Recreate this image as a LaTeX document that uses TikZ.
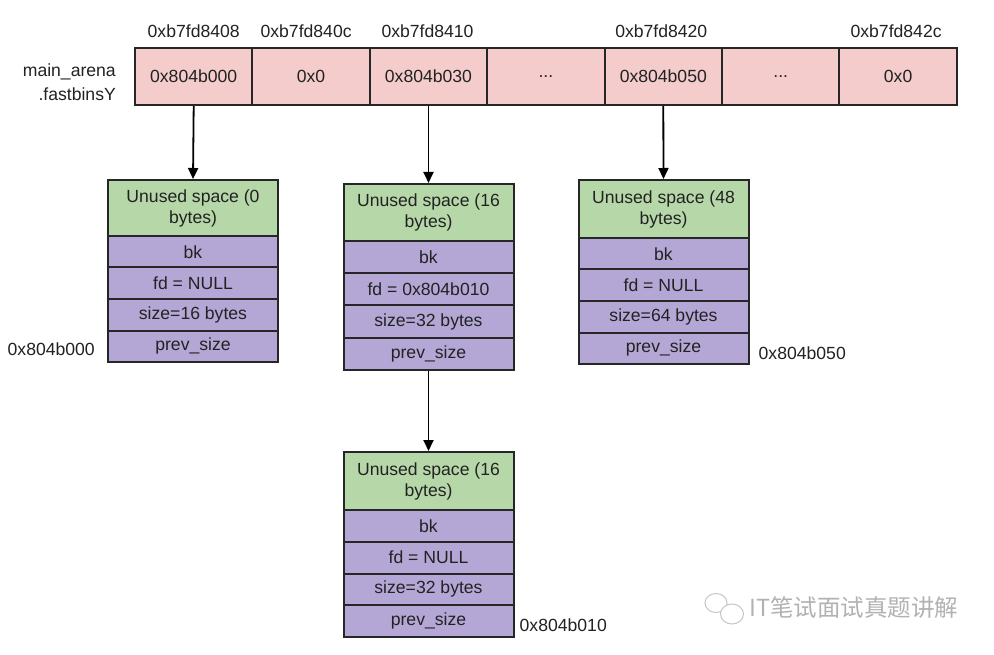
\documentclass[tikz,border=0pt]{standalone}
\usepackage{fontspec}
\setmainfont{Liberation Sans}
\newfontfamily\cjk{Noto Sans CJK SC}
\usetikzlibrary{arrows.meta,positioning,calc}
\definecolor{pinkc}{HTML}{F4CCCC}
\definecolor{greenc}{HTML}{B6D7A8}
\definecolor{purplec}{HTML}{B4A7D6}
\definecolor{edgec}{HTML}{262626}
\definecolor{txtc}{HTML}{222222}
\tikzset{
  base/.style={draw=edgec, line width=2pt, inner sep=0pt, text=txtc,
    font=\fontsize{17.6}{21}\selectfont, align=center},
  topcell/.style={base, fill=pinkc, minimum width=117.4pt, minimum height=57pt},
  unusedcell/.style={base, fill=greenc, minimum width=170pt},
  fieldcell/.style={base, fill=purplec, minimum width=170pt},
  lab/.style={inner sep=0pt, text=txtc, font=\fontsize{17.6}{21}\selectfont},
  ptr/.style={draw=black, line width=1.8pt, -{Triangle[length=11pt,width=10pt]}}
}
% #1 name, #2 center x, #3 top y, #4 green height, #5 row height, #6 green text, #7 fd text, #8 size text
\newcommand{\chunkbox}[8]{%
  \node[unusedcell, minimum height=#4pt] (#1g) at (#2,{#3+#4/2}) {#6};
  \node[fieldcell, minimum height=#5pt] (#1bk) at (#2,{#3+#4+#5/2}) {bk};
  \node[fieldcell, minimum height=#5pt] (#1fd) at (#2,{#3+#4+1.5*#5}) {#7};
  \node[fieldcell, minimum height=#5pt] (#1sz) at (#2,{#3+#4+2.5*#5}) {#8};
  \node[fieldcell, minimum height=#5pt] (#1ps) at (#2,{#3+#4+3.5*#5}) {prev\_size};
}
\begin{document}
\begin{tikzpicture}[x=1pt,y=-1pt]
\useasboundingbox[fill=white] (0,0) rectangle (994,655);

% top array
\node[topcell] (c1) at (193.7,76.5) {0x804b000};
\node[topcell] (c2) at (311.1,76.5) {0x0};
\node[topcell] (c3) at (428.5,76.5) {0x804b030};
\node[topcell] (c4) at (545.9,76.5) {...};
\node[topcell] (c5) at (663.3,76.5) {0x804b050};
\node[topcell] (c6) at (780.7,76.5) {...};
\node[topcell] (c7) at (898.1,76.5) {0x0};

\node[lab] (h1) at ($(c1.north)+(0,-16)$) {0xb7fd8408};
\node[lab] (h2) at ($(c2.north)+(-5,-16)$) {0xb7fd840c};
\node[lab] (h3) at ($(c3.north)+(-1,-16)$) {0xb7fd8410};
\node[lab] (h5) at ($(c5.north)+(-2,-16)$) {0xb7fd8420};
\node[lab] (h7) at ($(c7.north)+(-2,-16)$) {0xb7fd842c};

\node[lab, align=right, anchor=east, font=\fontsize{17.6}{24}\selectfont] (arena) at (116,82) {main\_arena\\.fastbinsY};

% chunks
\chunkbox{ca}{193}{180}{56}{31.5}{Unused space (0\\bytes)}{fd = NULL}{size=16 bytes}
\chunkbox{cb}{428.5}{184}{57}{32.25}{Unused space (16\\bytes)}{fd = 0x804b010}{size=32 bytes}
\chunkbox{cc}{663.5}{180}{58}{31.5}{Unused space (48\\bytes)}{fd = NULL}{size=64 bytes}
\chunkbox{cd}{428.5}{452}{58}{31.75}{Unused space (16\\bytes)}{fd = NULL}{size=32 bytes}

% address labels
\node[lab, anchor=east] (a0) at ($(caps.west)+(-12,3)$) {0x804b000};
\node[lab, anchor=west] (a50) at ($(ccps.east)+(9,5)$) {0x804b050};
\node[lab, anchor=west] (a10) at ($(cdps.east)+(5,4)$) {0x804b010};

% pointers
\draw[ptr] (c1.south) -- (cag.north);
\draw[ptr] (c3.south) -- (cbg.north);
\draw[ptr] (c5.south) -- (ccg.north);
\draw[ptr] (cbps.south) -- (cdg.north);

% watermark
\begin{scope}[draw=gray!45, line width=1pt]
  \draw (716,603) ellipse (11 and 9.5);
  \fill[white] (732,614) ellipse (11.5 and 10);
  \draw (732,614) ellipse (11.5 and 10);
\end{scope}
\node[inner sep=0pt, anchor=west, text=gray!60, font=\cjk\fontsize{23.5}{26}\selectfont] (wm) at (749,608) {IT笔试面试真题讲解};
\end{tikzpicture}
\end{document}
